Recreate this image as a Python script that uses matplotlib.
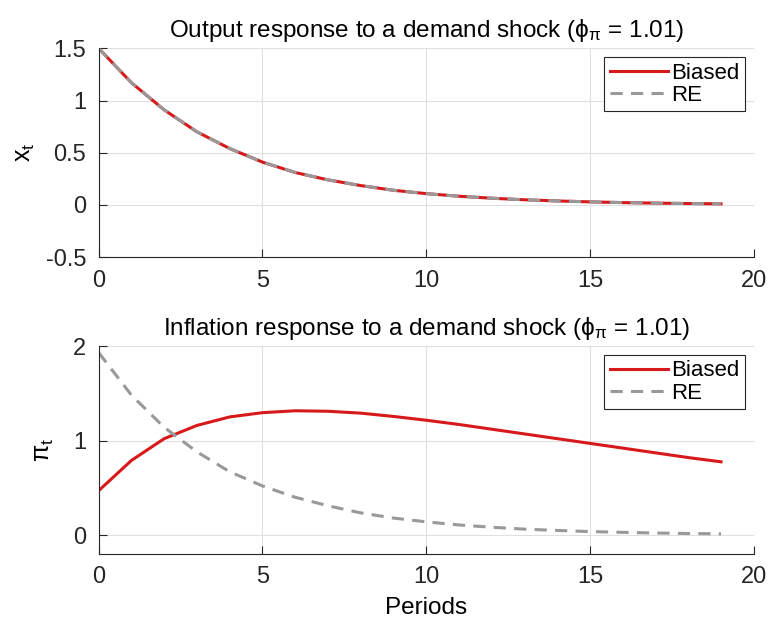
import numpy as np
import matplotlib.pyplot as plt

plt.rcParams['font.family'] = ['Liberation Sans', 'DejaVu Sans']
plt.rcParams['mathtext.fontset'] = 'custom'
plt.rcParams['mathtext.rm'] = 'Liberation Sans'
plt.rcParams['mathtext.it'] = 'Liberation Sans:italic'
plt.rcParams['mathtext.default'] = 'regular'

# periodos
t = np.arange(20)

# respuesta del producto (ambas series coinciden)
x_biased = [1.50, 1.17, 0.91, 0.70, 0.54, 0.41, 0.31, 0.24, 0.185, 0.14,
            0.108, 0.083, 0.064, 0.049, 0.038, 0.029, 0.022, 0.017, 0.013, 0.010]
x_re = [1.50, 1.17, 0.91, 0.70, 0.54, 0.41, 0.31, 0.24, 0.185, 0.14,
        0.108, 0.083, 0.064, 0.049, 0.038, 0.029, 0.022, 0.017, 0.013, 0.010]

# respuesta de la inflacion
pi_biased = [0.47, 0.79, 1.02, 1.16, 1.25, 1.295, 1.315, 1.31, 1.29, 1.255,
             1.215, 1.17, 1.12, 1.07, 1.02, 0.97, 0.92, 0.87, 0.82, 0.775]
pi_re = [1.93, 1.48, 1.14, 0.88, 0.67, 0.52, 0.40, 0.31, 0.235, 0.18,
         0.14, 0.107, 0.083, 0.063, 0.049, 0.037, 0.029, 0.022, 0.017, 0.013]

red = '#d7191c'
gray = '#999999'

fig = plt.figure(figsize=(7.68, 6.21), dpi=100)
ax1 = fig.add_axes([0.1285, 0.586, 0.853, 0.3362])
ax2 = fig.add_axes([0.1285, 0.1079, 0.853, 0.3349])

def estilo(ax):
    ax.spines['top'].set_visible(False)
    ax.spines['right'].set_visible(False)
    ax.spines['left'].set_color('#262626')
    ax.spines['bottom'].set_color('#262626')
    ax.grid(True, color='#e0e0e0', linewidth=0.8)
    ax.set_axisbelow(True)
    ax.tick_params(direction='in', length=6, labelsize=17, colors='#262626', pad=9)
    ax.set_xlim(0, 20)
    ax.set_xticks([0, 5, 10, 15, 20])
    leg = ax.legend(loc='upper right', fontsize=16, fancybox=False,
                    edgecolor='#262626', framealpha=1, handlelength=2.6,
                    borderaxespad=0.4, handletextpad=0.15, labelspacing=0.05,
                    borderpad=0.25)
    leg.get_frame().set_linewidth(0.8)

ax1.plot(t, x_biased, color=red, linewidth=2.2, label='Biased')
ax1.plot(t, x_re, color=gray, linewidth=2.2, linestyle=(0, (4, 2.7)), label='RE')
ax1.set_ylim(-0.5, 1.5)
ax1.set_yticks([-0.5, 0, 0.5, 1, 1.5])
ax1.set_yticklabels(['-0.5', '0', '0.5', '1', '1.5'])
ax1.set_ylabel('$x_t$', fontsize=18, labelpad=6)
ax1.set_title('Output response to a demand shock ($\\phi_\\pi$ = 1.01)', fontsize=17.5, pad=8)
estilo(ax1)

ax2.plot(t, pi_biased, color=red, linewidth=2.2, label='Biased')
ax2.plot(t, pi_re, color=gray, linewidth=2.2, linestyle=(0, (4, 2.7)), label='RE')
ax2.set_ylim(-0.2, 2)
ax2.set_yticks([0, 1, 2])
ax2.set_ylabel('$\\pi_t$', fontsize=18, labelpad=12)
ax2.set_xlabel('Periods', fontsize=17.5, labelpad=6)
ax2.set_title('Inflation response to a demand shock ($\\phi_\\pi$ = 1.01)', fontsize=17.5, pad=8)
estilo(ax2)

fig.savefig('out.png', dpi=100)
